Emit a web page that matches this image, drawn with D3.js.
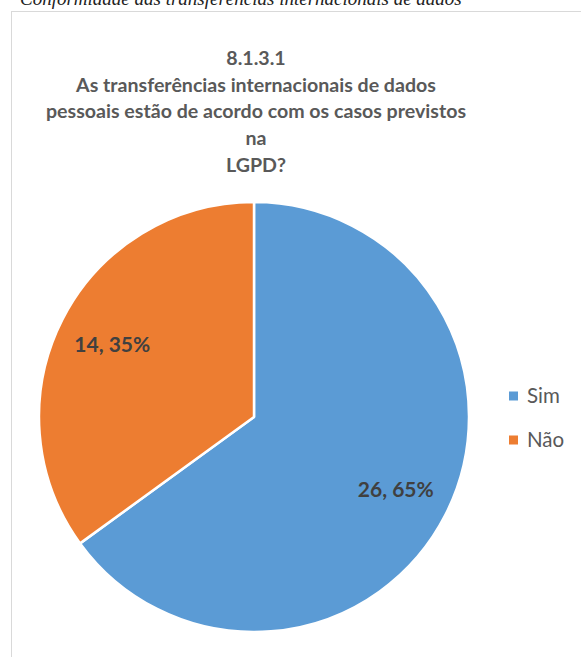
<!DOCTYPE html>
<html>
<head>
<meta charset="utf-8">
<script src="https://cdn.jsdelivr.net/npm/d3@7"></script>
<style>
  html, body { margin: 0; padding: 0; background: #fff; }
  svg { display: block; }
</style>
</head>
<body>
<svg id="chart" width="581" height="657"></svg>
<script>
// Answers and counts
const categories = ["Sim", "Não"];
const counts = [26, 14];
const percents = [65, 35];
const colors = ["#5B9BD5", "#ED7D31"];
const titleLines = [
  "8.1.3.1",
  "As transferências internacionais de dados",
  "pessoais estão de acordo com os casos previstos",
  "na",
  "LGPD?"
];
const headerText = "Conformidade das transferências internacionais de dados";

const svg = d3.select("#chart");
const font = "Lato, 'Open Sans', sans-serif";

// Running header of the page above the chart frame (cut at the top edge)
svg.append("text")
  .attr("x", 20).attr("y", 5)
  .attr("font-family", "'Liberation Serif', serif")
  .attr("font-style", "italic")
  .attr("font-size", 19)
  .attr("fill", "#222")
  .text(headerText);

// Chart frame
svg.append("rect")
  .attr("x", 11.5).attr("y", 11.5)
  .attr("width", 640).attr("height", 700)
  .attr("fill", "#fff")
  .attr("stroke", "#d9d9d9")
  .attr("stroke-width", 1);

// Title
const title = svg.append("text")
  .attr("text-anchor", "middle")
  .attr("font-family", font)
  .attr("font-weight", "bold")
  .attr("font-size", 19.6)
  .attr("fill", "#595959");
titleLines.forEach((t, i) => {
  title.append("tspan")
    .attr("x", 256)
    .attr("y", 65 + i * 26.7)
    .text(t);
});

// Pie
const cx = 254, cy = 417, r = 215;
const data = categories.map((c, i) => ({ cat: c, count: counts[i], pct: percents[i], color: colors[i] }));
const pie = d3.pie().sort(null).value(d => d.count);
const arc = d3.arc().innerRadius(0).outerRadius(r);
const g = svg.append("g").attr("transform", `translate(${cx},${cy})`);
const arcs = pie(data);

g.selectAll("path")
  .data(arcs)
  .join("path")
  .attr("d", arc)
  .attr("fill", d => d.data.color)
  .attr("stroke", "#fff")
  .attr("stroke-width", 2.5)
  .attr("stroke-linejoin", "round");

// Data labels
const labelArc = d3.arc().innerRadius(r * 0.74).outerRadius(r * 0.74);
g.selectAll("text.lbl")
  .data(arcs)
  .join("text")
  .attr("class", "lbl")
  .attr("transform", d => {
    const [x, y] = labelArc.centroid(d);
    return `translate(${x},${y})`;
  })
  .attr("text-anchor", "middle")
  .attr("dy", "0.36em")
  .attr("font-family", font)
  .attr("font-weight", "bold")
  .attr("font-size", 21)
  .attr("fill", "#404040")
  .text(d => `${d.data.count}, ${d.data.pct}%`);

// Legend
const legend = svg.append("g");
const items = legend.selectAll("g")
  .data(data)
  .join("g")
  .attr("transform", (d, i) => `translate(509, ${396 + i * 44})`);
items.append("rect")
  .attr("x", 0).attr("y", -4.5)
  .attr("width", 9).attr("height", 9)
  .attr("fill", d => d.color);
items.append("text")
  .attr("x", 18).attr("y", 0)
  .attr("dy", "0.36em")
  .attr("font-family", font)
  .attr("font-size", 20.5)
  .attr("fill", "#595959")
  .text(d => d.cat);
</script>
</body>
</html>
